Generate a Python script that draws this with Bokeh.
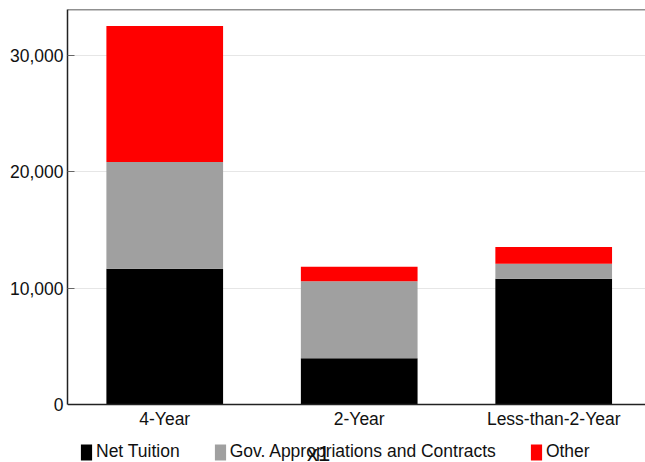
from bokeh.plotting import figure
from bokeh.models import (Range1d, FixedTicker, Legend, LegendItem, Label, Span,
                          NumeralTickFormatter, ColumnDataSource)
from bokeh.core.properties import value
from bokeh.embed import file_html
from bokeh.resources import INLINE

categories = ["4-Year", "2-Year", "Less-than-2-Year"]
net_tuition = [11670, 3980, 10810]
gov_approp = [9165, 6620, 1290]
other = [11695, 1240, 1430]
series_names = ["Net Tuition", "Gov. Appropriations and Contracts", "Other"]
series_colors = ["#000000", "#a0a0a0", "#ff0000"]
y_ticks = [0, 10000, 20000, 30000]
y_max = 33955
y_min = -4986

xs = [i + 0.5 for i in range(len(categories))]
src = ColumnDataSource(dict(x=xs, net=net_tuition, gov=gov_approp, other=other))
lab_src = ColumnDataSource(dict(x=xs, y=[0] * len(xs), text=categories))

FONT = "Liberation Sans"
TXT = "#111111"
FS = "17.5px"

p = figure(width=645, height=462, output_backend="svg", toolbar_location=None,
           x_range=Range1d(0, 2.972), y_range=Range1d(y_min, y_max),
           x_axis_location=None,
           min_border_left=67, min_border_right=0, min_border_top=9,
           min_border_bottom=0)

renderers = p.vbar_stack(["net", "gov", "other"], x="x", width=0.6, source=src,
                         color=series_colors, line_color=None)

p.outline_line_color = None
p.add_layout(Span(location=y_max, dimension="width", line_color="#222222", line_width=1.5))
p.add_layout(Span(location=0, dimension="width", line_color="#222222", line_width=1.5))

# category labels under the baseline
p.text(x="x", y="y", text="text", source=lab_src, y_offset=15,
       text_align="center", text_baseline="middle",
       text_font=value(FONT), text_font_size=FS, text_color=TXT)

p.yaxis.ticker = FixedTicker(ticks=y_ticks)
p.yaxis.bounds = (0, y_max)
p.yaxis.formatter = NumeralTickFormatter(format="0,0")
p.yaxis.major_tick_in = 7
p.yaxis.major_tick_out = 0
p.yaxis.major_tick_line_color = "#666666"
p.yaxis.minor_tick_line_color = None
p.yaxis.axis_line_color = "#222222"
p.yaxis.axis_line_width = 1.5
p.yaxis.major_label_text_font = FONT
p.yaxis.major_label_text_font_size = FS
p.yaxis.major_label_text_color = TXT
p.yaxis.major_label_standoff = 4

p.xgrid.grid_line_color = None
p.ygrid.grid_line_color = "#e6e6e6"
p.ygrid.grid_line_width = 1.2
p.ygrid.bounds = (1, y_max)

legend = Legend(items=[LegendItem(label=n, renderers=[r]) for n, r in zip(series_names, renderers)],
                orientation="horizontal", location=(12, 0),
                glyph_width=14, glyph_height=20, label_standoff=3, spacing=33,
                padding=0, margin=0, border_line_color=None, background_fill_alpha=0,
                label_text_font=FONT, label_text_font_size=FS, label_text_color=TXT)
p.add_layout(legend, "center")

p.add_layout(Label(x=251, y=22, x_units="screen", y_units="screen", text="x1",
                   text_font=FONT, text_font_size="22px", text_align="center",
                   text_baseline="top", text_color=TXT))

open("out.html", "w").write(file_html(p, INLINE))
